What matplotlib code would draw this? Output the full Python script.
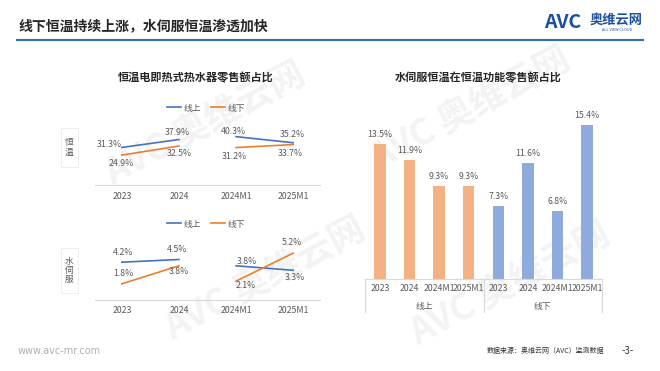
import matplotlib
matplotlib.use("Agg")
import matplotlib.pyplot as plt
from matplotlib.lines import Line2D
from matplotlib.patches import Rectangle

plt.rcParams['font.family'] = ['Noto Sans CJK SC', 'DejaVu Sans']

# ---- data ----
periods = ['2023', '2024', '2024M1', '2025M1']
series_names = ['线上', '线下']
# 恒温电即热式热水器零售额占比 (%)
hengwen_online = [31.3, 37.9, 40.3, 35.2]
hengwen_offline = [24.9, 32.5, 31.2, 33.7]
# 水伺服 (%)
servo_online = [4.2, 4.5, 3.8, 3.3]
servo_offline = [1.8, 3.8, 2.1, 5.2]
# 水伺服恒温在恒温功能零售额占比 (%)
bar_online = [13.5, 11.9, 9.3, 9.3]
bar_offline = [7.3, 11.6, 6.8, 15.4]

title = '线下恒温持续上涨，水伺服恒温渗透加快'
left_title = '恒温电即热式热水器零售额占比'
right_title = '水伺服恒温在恒温功能零售额占比'
row_labels = ['恒温', '水伺服']

W, H = 660, 371
BLUE = '#4472C4'
ORANGE = '#ED7D31'
BAR_ORANGE = '#F4B183'
BAR_BLUE = '#8FAADC'
GRAY = '#595959'
AXIS = '#d9d9d9'


def box(x0, y0, x1, y1):
    return [x0 / W, 1 - y1 / H, (x1 - x0) / W, (y1 - y0) / H]


def fx(x):
    return x / W


def fy(y):
    return 1 - y / H


fig = plt.figure(figsize=(W / 100, H / 100), dpi=100)

# faint watermarks (behind everything)
for (wx, wy) in [(205, 125), (265, 280), (470, 110), (510, 285)]:
    fig.text(fx(wx), fy(wy), 'AVC 奥维云网', fontsize=26, fontweight='bold',
             color='#f3f3f3', rotation=28, ha='center', va='center', zorder=-5)

# header
fig.text(fx(18), fy(26), title, fontsize=10, fontweight='bold', color='#262626',
         ha='left', va='center')
fig.add_artist(Line2D([fx(17), fx(643)], [fy(40), fy(40)], color='#2E6DB4', lw=1.5))
fig.text(fx(544), fy(23), 'AVC', fontsize=14, fontweight='bold', fontstyle='italic',
         color='#1C4FA0', ha='left', va='center')
fig.text(fx(590), fy(20), '奥维云网', fontsize=9.5, fontweight='bold',
         color='#1C4FA0', ha='left', va='center')
fig.text(fx(617), fy(30), 'ALL VIEW CLOUD', fontsize=2.8, color='#1C4FA0',
         ha='center', va='center')

# footer
fig.text(fx(18), fy(351), 'www.avc-mr.com', fontsize=7, color='#b0b0b0',
         ha='left', va='center', family=['DejaVu Sans'])
fig.text(fx(487), fy(351), '数据来源：奥维云网（AVC）监测数据', fontsize=5,
         color='#333333', ha='left', va='center')
fig.text(fx(622), fy(351), '-3-', fontsize=7, color='#333333', ha='left', va='center')

# ---- left: line charts ----
fig.text(fx(196), fy(78), left_title, fontsize=8, fontweight='bold',
         color='#262626', ha='center', va='center')

# label offsets in pixels (dx, dy up), ha
top_offsets = {
    'online': [(0, 3, 'right'), (-2, 7, 'center'), (-3, 5, 'center'), (-1, 8, 'center')],
    'offline': [(-1, -8, 'center'), (0, -8, 'center'), (-2, -8.5, 'center'), (-3, -9, 'center')],
}
bottom_offsets = {
    'online': [(1, 10, 'center'), (-2, 10.5, 'center'), (11, 4, 'center'), (2, -7, 'center')],
    'offline': [(1, 10.5, 'center'), (0, -5.5, 'center'), (10, -4, 'center'), (-1, 10.5, 'center')],
}

panels = [
    (box(95, 125, 320, 185), hengwen_online, hengwen_offline, 50, top_offsets, 108, 5,
     (61, 128, 78, 167), row_labels[0]),
    (box(95, 237, 320, 300), servo_online, servo_offline, 7, bottom_offsets, 224, 4.5,
     (61, 248, 78, 293), row_labels[1]),
]

for rect, on, off, ymax, offs, leg_y, pad, rbox, rlabel in panels:
    ax = fig.add_axes(rect)
    ax.patch.set_alpha(0)
    xs = list(range(len(periods)))
    for vals, color, name, key in [(on, BLUE, series_names[0], 'online'),
                                   (off, ORANGE, series_names[1], 'offline')]:
        # two separate segments: annual and M1
        ax.plot(xs[:2], vals[:2], color=color, lw=1.2, label=name)
        ax.plot(xs[2:], vals[2:], color=color, lw=1.2)
        for i, v in enumerate(vals):
            dx, dy, ha = offs[key][i]
            ax.annotate(f'{v}%', (xs[i], v), xytext=(dx * 0.72, dy * 0.72),
                        textcoords='offset points', ha=ha, va='center',
                        fontsize=6.3, color=GRAY)
    ax.set_xlim(-0.47, 3.47)
    ax.set_ylim(0, ymax)
    ax.set_xticks(xs)
    ax.set_xticklabels(periods, fontsize=6.3, color=GRAY)
    ax.tick_params(axis='x', length=0, pad=pad)
    ax.set_yticks([])
    for s in ['top', 'right', 'left']:
        ax.spines[s].set_visible(False)
    ax.spines['bottom'].set_color(AXIS)
    ax.spines['bottom'].set_linewidth(0.8)
    ax.legend(loc='center', bbox_to_anchor=(fx(206), fy(leg_y)),
              bbox_transform=fig.transFigure, ncol=2, frameon=False,
              fontsize=6.3, handlelength=1.6, handletextpad=0.3, columnspacing=1.2,
              labelcolor=GRAY)
    x0, y0, x1, y1 = rbox
    fig.add_artist(Rectangle((fx(x0), fy(y1)), (x1 - x0) / W, (y1 - y0) / H,
                             transform=fig.transFigure, fill=False,
                             edgecolor='#ececec', lw=0.6))
    fig.text(fx((x0 + x1) / 2), fy((y0 + y1) / 2), '\n'.join(rlabel), fontsize=6.3,
             color=GRAY, ha='center', va='center', linespacing=1.0)

# ---- right: bar chart ----
fig.text(fx(478), fy(78), right_title, fontsize=8, fontweight='bold',
         color='#262626', ha='center', va='center')

axb = fig.add_axes(box(365, 100, 602, 279))
axb.patch.set_alpha(0)
n = len(periods)
pos_on = list(range(n))
pos_off = [p + n for p in range(n)]
b1 = axb.bar(pos_on, bar_online, width=0.39, color=BAR_ORANGE)
b2 = axb.bar(pos_off, bar_offline, width=0.39, color=BAR_BLUE)
for bars, vals in [(b1, bar_online), (b2, bar_offline)]:
    for rect, v in zip(bars, vals):
        axb.annotate(f'{v}%', (rect.get_x() + rect.get_width() / 2, v),
                     xytext=(0, 7), textcoords='offset points', ha='center',
                     va='center', fontsize=6.3, color=GRAY)
axb.set_xlim(-0.5, 2 * n - 0.5)
axb.set_ylim(0, 17.9)
axb.set_xticks(pos_on + pos_off)
axb.set_xticklabels(periods + periods, fontsize=6.3, color=GRAY)
axb.tick_params(axis='x', length=0, pad=3.5)
axb.set_yticks([])
for s in ['top', 'right', 'left']:
    axb.spines[s].set_visible(False)
axb.spines['bottom'].set_color(AXIS)
axb.spines['bottom'].set_linewidth(0.8)

# multi-level category axis
ax_h = 179.0
sep_depth = 33 / ax_h
for xsep in [-0.5, n - 0.5, 2 * n - 0.5]:
    axb.plot([xsep, xsep], [0, -sep_depth], color=AXIS, lw=0.8, clip_on=False,
             transform=axb.get_xaxis_transform())
for center, name in [((n - 1) / 2, series_names[0]), (n + (n - 1) / 2, series_names[1])]:
    axb.annotate(name, (center, 0), xycoords=('data', 'axes fraction'),
                 xytext=(0, -28 * 0.72), textcoords='offset points',
                 ha='center', va='center', fontsize=6.3, color=GRAY)

fig.savefig('out.png', dpi=100)
